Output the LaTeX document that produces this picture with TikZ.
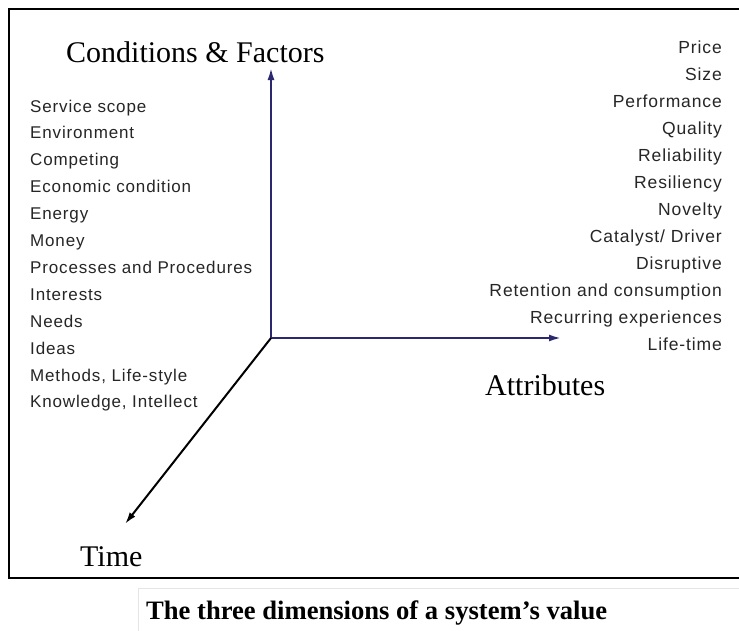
\documentclass[tikz,border=0pt]{standalone}
\usepackage{fontspec}
\setmainfont{Liberation Serif}
\newfontfamily\arialfont[LetterSpace=5]{Liberation Sans}
\usetikzlibrary{arrows.meta}
\definecolor{axisnavy}{HTML}{2B2870}
\tikzset{
  x=1pt, y=-1pt,
  title/.style={font=\fontsize{30}{30}\selectfont, inner sep=0pt, anchor=base west},
  leftitem/.style={font=\arialfont\fontsize{17}{17}\selectfont, inner sep=0pt, anchor=base west, text=black!85},
  rightitem/.style={font=\arialfont\fontsize{17.5}{17.5}\selectfont, inner sep=0pt, anchor=base east, text=black!85},
  axis/.style={line width=2pt, -{Latex[length=12pt,width=7pt]}},
}
\begin{document}
\begin{tikzpicture}
\useasboundingbox (0,0) rectangle (739,630);
\fill[white] (0,0) rectangle (739,630);
% frame
\draw[line width=2pt] (745,9) -- (9,9) -- (9,578) -- (745,578);
% caption box
\draw[black!10, line width=0.8pt] (138,630.5) -- (138,588) -- (745,588);
\node[font=\bfseries\fontsize{26.6}{26.6}\selectfont, inner sep=0pt, anchor=base west] (cap) at (146,619) {The three dimensions of a system's value};
% axes
\coordinate (O) at (271,338);
\coordinate (up) at (271,68);
\coordinate (right) at (561,338);
\coordinate (down) at (125,524);
\draw[axis, axisnavy] (O) -- (up);
\draw[axis, axisnavy] (O) -- (right);
\draw[axis, black] (O) -- (down);
% titles
\node[title] (cf) at (66,62) {Conditions \& Factors};
\node[title] (attr) at (485,395) {Attributes};
\node[title] (time) at (80,566) {Time};
% left list
\foreach \t [count=\i from 0] in {Service scope, Environment, Competing, Economic condition, Energy, Money, Processes and Procedures, Interests, Needs, Ideas, {Methods, Life-style}, {Knowledge, Intellect}}
  \node[leftitem] (l\i) at (30,112+26.9*\i) {\t};
% right list
\foreach \t [count=\i from 0] in {Price, Size, Performance, Quality, Reliability, Resiliency, Novelty, Catalyst/ Driver, Disruptive, Retention and consumption, Recurring experiences, Life-time}
  \node[rightitem] (r\i) at (722,53+27*\i) {\t};
\end{tikzpicture}
\end{document}
